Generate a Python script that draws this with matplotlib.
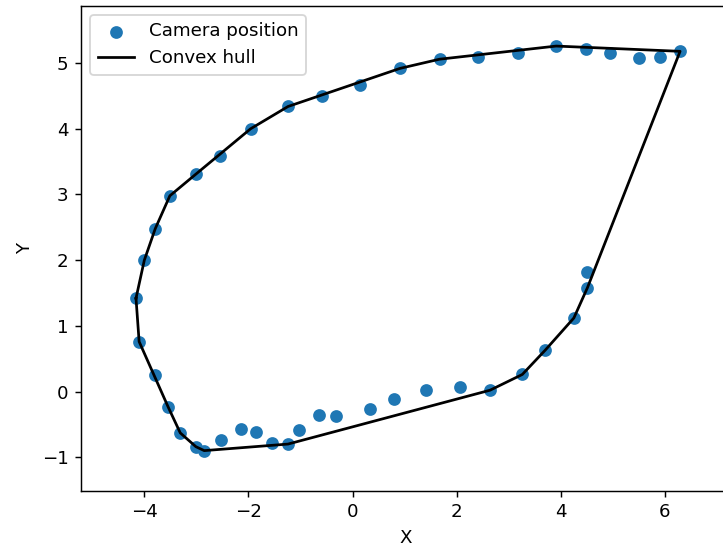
"""Camera positions and their convex hull."""

import matplotlib

matplotlib.use("Agg")
import matplotlib.pyplot as plt
import numpy as np

# Camera positions.
CAMERA_X = [
    0.91, 0.14, -0.58, -1.24, -1.96, -2.55, -3.01, -3.51, -3.79,
    -4.00, -4.16, -4.10, -3.79, -3.54, -3.31, -3.01, -2.85, -2.52,
    -2.15, -1.85, -1.55, -1.24, -1.02, -0.64, -0.32, 0.33, 0.80,
    1.41, 2.06, 2.64, 3.26, 3.70, 4.25, 4.51, 4.50,
    1.67, 2.40, 3.18, 3.91, 4.48, 4.94, 5.50, 5.90, 6.29,
]
CAMERA_Y = [
    4.92, 4.66, 4.50, 4.34, 4.00, 3.59, 3.31, 2.98, 2.48,
    2.00, 1.42, 0.76, 0.25, -0.24, -0.63, -0.84, -0.90, -0.74,
    -0.57, -0.61, -0.79, -0.80, -0.58, -0.36, -0.38, -0.26, -0.12,
    0.02, 0.07, 0.02, 0.26, 0.63, 1.12, 1.58, 1.82,
    5.06, 5.10, 5.15, 5.26, 5.22, 5.16, 5.08, 5.10, 5.18,
]


def convex_hull(points: np.ndarray) -> np.ndarray:
    """Returns the convex hull vertices (monotone chain), closed."""
    pts = sorted(map(tuple, points))

    def cross(o, a, b):
        return (a[0] - o[0]) * (b[1] - o[1]) - (a[1] - o[1]) * (b[0] - o[0])

    lower = []
    for p in pts:
        while len(lower) >= 2 and cross(lower[-2], lower[-1], p) <= 0:
            lower.pop()
        lower.append(p)
    upper = []
    for p in reversed(pts):
        while len(upper) >= 2 and cross(upper[-2], upper[-1], p) <= 0:
            upper.pop()
        upper.append(p)
    hull = lower[:-1] + upper[:-1]
    hull.append(hull[0])
    return np.array(hull)


def main():
    points = np.column_stack([CAMERA_X, CAMERA_Y])
    hull = convex_hull(points)

    dpi = 131
    fig = plt.figure(figsize=(723 / dpi, 546 / dpi), dpi=dpi)
    ax = fig.add_axes([0.1125, 0.1013, 0.898, 0.8877])

    ax.scatter(points[:, 0], points[:, 1], label="Camera position")
    ax.plot(hull[:, 0], hull[:, 1], color="black", label="Convex hull")

    ax.set_xlim(-5.21, 7.26)
    ax.set_ylim(-1.51, 5.87)
    ax.set_xlabel("X")
    ax.set_ylabel("Y")
    ax.legend(loc="upper left")

    fig.savefig("out.png", dpi=dpi)


if __name__ == "__main__":
    main()
